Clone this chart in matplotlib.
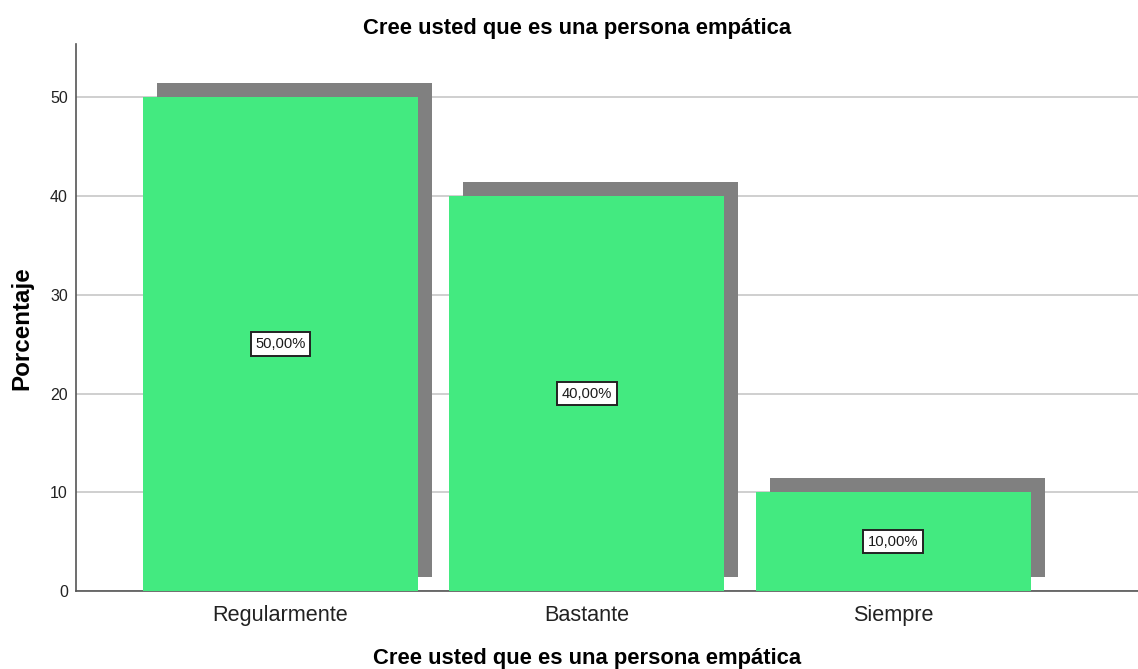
import matplotlib
matplotlib.use("Agg")
import matplotlib.pyplot as plt
from matplotlib.patches import Rectangle

categories = ["Regularmente", "Bastante", "Siempre"]
values = [50.0, 40.0, 10.0]
labels = ["50,00%", "40,00%", "10,00%"]
yticks = [0, 10, 20, 30, 40, 50]

plt.rcParams['font.family'] = ['Liberation Sans', 'DejaVu Sans']

fig = plt.figure(figsize=(11.38, 6.69), dpi=100)
ax = fig.add_axes([76/1138, 78/669, 1 - 76/1138, (591-44)/669])

width = 0.897
dx = 14/306.5
dy = 1.42
green = "#43EA80"
gray = "#808080"

for i, v in enumerate(values):
    ax.add_patch(Rectangle((i - width/2 + dx, dy), width, v, facecolor=gray, edgecolor='none', zorder=2))
ax.bar(range(len(values)), values, width=width, color=green, zorder=3)
for i, (v, lab) in enumerate(zip(values, labels)):
    ax.text(i, v/2, lab, ha='center', va='center', fontsize=10.6, color='#1a1a1a', zorder=4,
            bbox=dict(boxstyle='square,pad=0.32', facecolor='white', edgecolor='#222222', linewidth=1.4))

ax.set_xlim(-0.667, 2.798)
ax.set_ylim(0, 55.4)
ax.set_yticks(yticks)
ax.set_xticks(range(len(categories)))
ax.set_xticklabels(categories, fontsize=15.6)
ax.tick_params(axis='x', length=0, pad=10, colors='#222222')
ax.tick_params(axis='y', length=0, pad=5.8, labelsize=11.5, colors='#222222')
ax.yaxis.grid(True, color='#cccccc', linewidth=1.3, zorder=0)
ax.set_axisbelow(True)
for s in ['top', 'right']:
    ax.spines[s].set_visible(False)
for s in ['left', 'bottom']:
    ax.spines[s].set_color('#555555')
    ax.spines[s].set_linewidth(1.2)

ax.set_title("Cree usted que es una persona empática", fontsize=15.8, fontweight='bold', pad=7,
             x=(577-76)/1062)
ax.set_xlabel("Cree usted que es una persona empática", fontsize=15.8, fontweight='bold')
ax.xaxis.set_label_coords((587-76)/1062, -(664-591)/547)
ax.xaxis.label.set_va('baseline')
ax.set_ylabel("Porcentaje", fontsize=17.4, fontweight='bold')
ax.yaxis.set_label_coords(-(76-33)/1062, 0.481)

fig.savefig("out.png", dpi=100)
